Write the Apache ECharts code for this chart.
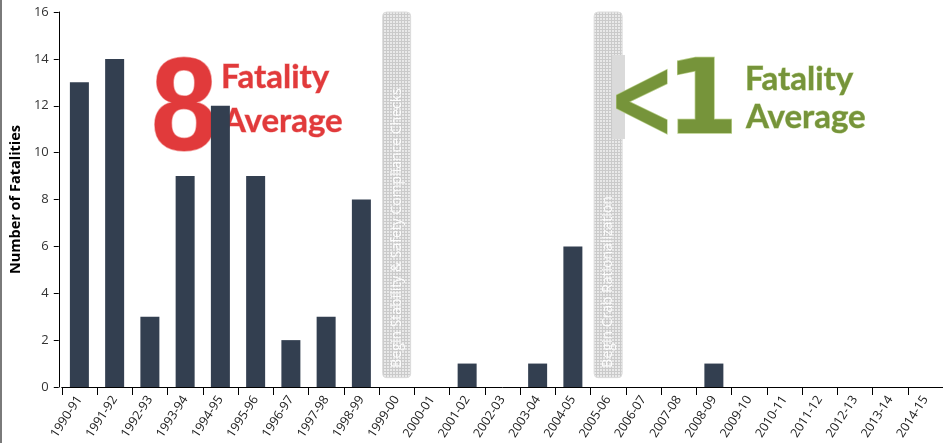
<!DOCTYPE html>
<html>
<head>
<meta charset="utf-8">
<script src="https://cdn.jsdelivr.net/npm/echarts@6/dist/echarts.min.js"></script>
<style>
html,body{margin:0;padding:0;background:#fff;}
#chart{width:943px;height:443px;}
</style>
</head>
<body>
<div id="chart"></div>
<script>
const categories = ['1990-91','1991-92','1992-93','1993-94','1994-95','1995-96','1996-97','1997-98','1998-99','1999-00','2000-01','2001-02','2002-03','2003-04','2004-05','2005-06','2006-07','2007-08','2008-09','2009-10','2010-11','2011-12','2012-13','2013-14','2014-15'];
const fatalities = [13,14,3,9,12,9,2,3,8,0,0,1,0,1,6,0,0,0,1,0,0,0,0,0,0];
const yTicks = [0,2,4,6,8,10,12,14,16];
const milestones = [
  {category:'1999-00', label:'Begin Stability & Safety Compliance Checks'},
  {category:'2005-06', label:'Begin Crab Rationalization'}
];
const beforeAvg = {value:'8', line1:'Fatality', line2:'Average'};
const afterAvg = {lt:'<', value:'1', line1:'Fatality', line2:'Average'};

const chart = echarts.init(document.getElementById('chart'));

const pc = document.createElement('canvas');
pc.width = 3; pc.height = 3;
const pctx = pc.getContext('2d');
pctx.fillStyle = '#cacaca'; pctx.fillRect(0,0,3,3);
pctx.fillStyle = '#e9e9e9'; pctx.fillRect(0,0,2,2);

const option = {
  animation:false,
  grid:{left:60, top:12, width:889, height:375},
  xAxis:{
    type:'category', data:categories,
    axisLine:{lineStyle:{color:'#000', width:1}},
    axisTick:{show:true, length:8, lineStyle:{color:'#000'}},
    axisLabel:{rotate:57, fontSize:12.5, color:'#1a1a1a', fontFamily:'Open Sans', margin:10, interval:0}
  },
  yAxis:{
    type:'value', min:yTicks[0], max:yTicks[yTicks.length-1], interval:2, offset:3,
    name:'Number of Fatalities', nameLocation:'middle', nameGap:29,
    nameTextStyle:{fontSize:14.5, fontWeight:'bold', color:'#000', fontFamily:'Open Sans'},
    axisLine:{show:true, lineStyle:{color:'#000'}},
    axisTick:{show:true, length:5, lineStyle:{color:'#000'}},
    axisLabel:{fontSize:13, color:'#333', fontFamily:'Open Sans', margin:10},
    splitLine:{show:false}
  },
  series:[{
    type:'bar', data:fatalities, barWidth:19, z:5,
    itemStyle:{color:'#333f50'}
  }]
};
chart.setOption(option);

const red = '#e13a3b', redEdge = '#f3a3a2';
const green = '#76943a', greenEdge = '#b5cc86';

const g = [];
g.push({type:'rect', shape:{x:0,y:0,width:2,height:443}, style:{fill:'#7a7a7a'}, z:1});
milestones.forEach(m=>{
  const cx = chart.convertToPixel({xAxisIndex:0}, m.category);
  const yTop = chart.convertToPixel({yAxisIndex:0}, 16);
  const yBot = chart.convertToPixel({yAxisIndex:0}, 0.4);
  g.push({type:'rect', shape:{x:cx-14, y:yTop, width:28, height:yBot-yTop, r:4},
    style:{fill:{image:pc, repeat:'repeat'}, stroke:'#dcdcdc', lineWidth:1}, z:2});
  g.push({type:'text', x:cx, y:yBot-10, rotation:Math.PI/2,
    style:{text:m.label, fill:'rgba(255,255,255,0.92)', font:'14px "Open Sans"', align:'left', verticalAlign:'middle'}, z:3});
});
// light band near the "<"
g.push({type:'rect', shape:{x:612, y:55, width:13, height:84}, style:{fill:'#dadada'}, z:2});

g.push({type:'text', x:151, y:114, scaleX:0.9, style:{text:beforeAvg.value, font:'bold 132px "Liberation Sans"', fill:red, stroke:redEdge, lineWidth:1.5, verticalAlign:'middle'}, z:0});
g.push({type:'text', x:221, y:77, style:{text:beforeAvg.line1, font:'bold 33px Lato', fill:red, stroke:redEdge, lineWidth:0.8, verticalAlign:'middle'}, z:0});
g.push({type:'text', x:223, y:121, style:{text:beforeAvg.line2, font:'bold 33px Lato', fill:red, stroke:redEdge, lineWidth:0.8, verticalAlign:'middle'}, z:0});

g.push({type:'text', x:608, y:108, scaleX:0.72, style:{text:afterAvg.lt, font:'bold 112px "DejaVu Sans"', fill:green, stroke:greenEdge, lineWidth:1.5, verticalAlign:'middle'}, z:4});
g.push({type:'text', x:666, y:106, style:{text:afterAvg.value, font:'bold 104px "DejaVu Sans"', fill:green, stroke:greenEdge, lineWidth:1.5, verticalAlign:'middle'}, z:4});
g.push({type:'text', x:745, y:79, style:{text:afterAvg.line1, font:'bold 33px Lato', fill:green, stroke:greenEdge, lineWidth:0.8, verticalAlign:'middle'}, z:4});
g.push({type:'text', x:746, y:117, style:{text:afterAvg.line2, font:'bold 33px Lato', fill:green, stroke:greenEdge, lineWidth:0.8, verticalAlign:'middle'}, z:4});

chart.setOption({graphic:{elements:g}});
</script>
</body>
</html>
